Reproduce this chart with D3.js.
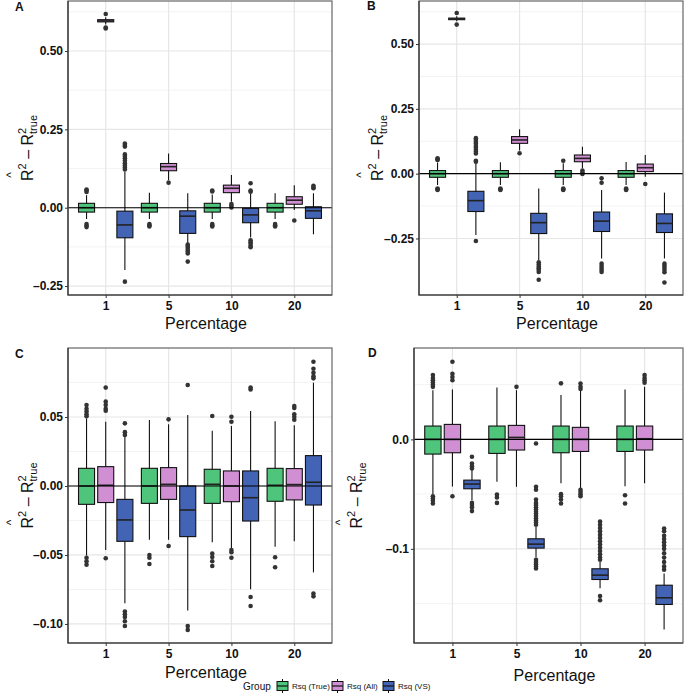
<!DOCTYPE html>
<html>
<head>
<meta charset="utf-8">
<script src="https://cdn.jsdelivr.net/npm/d3@7/dist/d3.min.js"></script>
<style>
  body { margin: 0; background: #fff; }
  text { font-family: "Liberation Sans", Arial, sans-serif; }
</style>
</head>
<body>
<svg width="685" height="694"></svg>
<script>
var percentages = ["1", "5", "10", "20"];
var groups = ["Rsq (True)", "Rsq (All)", "Rsq (VS)"];
var colors = ["#4fc57b", "#d18fd3", "#4363b5"];

// rows: [percentage, group index, lower whisker, q1, median, q3, upper whisker]
var statsA = [
  ["1", 0, -0.036, -0.014, 0, 0.014, 0.040], ["1", 1, 0.585, 0.593, 0.596, 0.600, 0.608], ["1", 2, -0.199, -0.096, -0.055, -0.011, 0.115],
  ["5", 0, -0.036, -0.014, 0, 0.014, 0.048], ["5", 1, 0.088, 0.118, 0.131, 0.141, 0.173], ["5", 2, -0.114, -0.082, -0.027, -0.010, 0.046],
  ["10", 0, -0.036, -0.014, 0, 0.014, 0.042], ["10", 1, 0.019, 0.048, 0.062, 0.072, 0.104], ["10", 2, -0.095, -0.048, -0.023, -0.002, 0.045],
  ["20", 0, -0.036, -0.014, 0, 0.014, 0.046], ["20", 1, -0.007, 0.011, 0.024, 0.035, 0.072], ["20", 2, -0.085, -0.034, -0.010, 0.003, 0.046]
];
var outA = [
  ["1", 0, 0.050, 0.055, 0.058, -0.052, -0.058, -0.062], ["1", 1, 0.618, 0.572, 0.575],
  ["1", 2, 0.122, 0.128, 0.135, 0.142, 0.15, 0.158, 0.165, 0.17, 0.195, 0.2, 0.205, -0.236],
  ["5", 0, -0.052, -0.056, -0.06], ["5", 1, 0.08], ["5", 2, -0.118, -0.122, -0.128, -0.134, -0.14, -0.146, -0.172],
  ["10", 0, 0.052, 0.055, -0.052, -0.056, -0.06], ["10", 1, 0.012, 0.006, 0.001], ["10", 2, 0.051, 0.055, 0.078, -0.104, -0.11, -0.116, -0.122, -0.126],
  ["20", 0, -0.052, -0.056, -0.06], ["20", 1, -0.041], ["20", 2, 0.062, 0.066, 0.07]
];

var statsB = [
  ["1", 0, -0.044, -0.014, 0, 0.012, 0.043], ["1", 1, 0.588, 0.594, 0.597, 0.600, 0.607], ["1", 2, -0.237, -0.146, -0.104, -0.068, 0.040],
  ["5", 0, -0.044, -0.014, 0, 0.012, 0.044], ["5", 1, 0.089, 0.117, 0.130, 0.143, 0.171], ["5", 2, -0.334, -0.231, -0.189, -0.153, -0.057],
  ["10", 0, -0.044, -0.014, 0, 0.012, 0.040], ["10", 1, 0.021, 0.046, 0.059, 0.072, 0.104], ["10", 2, -0.327, -0.223, -0.183, -0.148, -0.063],
  ["20", 0, -0.044, -0.014, 0, 0.012, 0.045], ["20", 1, -0.012, 0.008, 0.023, 0.037, 0.072], ["20", 2, -0.327, -0.227, -0.192, -0.155, -0.073]
];
var outB = [
  ["1", 0, 0.053, 0.056, 0.059, -0.057, -0.06, -0.063], ["1", 1, 0.62, 0.575],
  ["1", 2, 0.046, 0.05, 0.078, 0.085, 0.092, 0.1, 0.107, 0.115, 0.122, 0.13, 0.137, -0.26],
  ["5", 0, -0.057, -0.06, -0.063], ["5", 1, 0.079], ["5", 2, -0.342, -0.35, -0.358, -0.365, -0.372, -0.379, -0.409],
  ["10", 0, 0.05, -0.057, -0.06, -0.063], ["10", 1, 0.012, 0.005, -0.001], ["10", 2, -0.018, -0.035, -0.347, -0.356, -0.364, -0.372, -0.379],
  ["20", 0, -0.057, -0.06, -0.063], ["20", 1, -0.04], ["20", 2, -0.347, -0.355, -0.363, -0.372, -0.38, -0.42]
];

var statsC = [
  ["1", 0, -0.0505, -0.0133, 0, 0.0128, 0.049], ["1", 1, -0.0464, -0.012, 0.0005, 0.014, 0.0466], ["1", 2, -0.085, -0.0401, -0.0246, -0.0097, 0.0357],
  ["5", 0, -0.039, -0.0126, 0, 0.0128, 0.0478], ["5", 1, -0.039, -0.0097, 0.0012, 0.0133, 0.0447], ["5", 2, -0.0903, -0.0367, -0.0174, 0, 0.0514],
  ["10", 0, -0.0408, -0.0126, 0.0012, 0.0121, 0.040], ["10", 1, -0.045, -0.0114, 0, 0.0109, 0.0435], ["10", 2, -0.0749, -0.0254, -0.0085, 0.0109, 0.0543],
  ["20", 0, -0.044, -0.0111, 0.0005, 0.0128, 0.047], ["20", 1, -0.040, -0.0101, 0.001, 0.0126, 0.044], ["20", 2, -0.0626, -0.0138, 0.0027, 0.022, 0.0749]
];
var outC = [
  ["1", 0, 0.0505, 0.052, 0.054, 0.056, 0.0587, -0.052, -0.0545, -0.057], ["1", 1, 0.0545, 0.056, 0.0586, 0.0611, 0.0713, -0.0524],
  ["1", 2, 0.037, 0.039, 0.0454, -0.091, -0.093, -0.095, -0.098, -0.1015],
  ["5", 0, -0.05, -0.052, -0.0565], ["5", 1, 0.0483, -0.0435], ["5", 2, 0.0732, -0.1015, -0.1043],
  ["10", 0, 0.0507, -0.049, -0.0515, -0.0545, -0.058], ["10", 1, 0.0466, 0.0502, -0.0464, -0.048, -0.052], ["10", 2, 0.07, 0.0713, -0.0805, -0.087],
  ["20", 0, -0.0517, -0.0589], ["20", 1, 0.048, 0.05, 0.052, 0.0565, 0.058], ["20", 2, 0.078, 0.0795, 0.082, 0.085, 0.09, -0.078, -0.080]
];

var statsD = [
  ["1", 0, -0.050, -0.0134, 0, 0.0122, 0.045], ["1", 1, -0.043, -0.0122, 0, 0.0137, 0.0457], ["1", 2, -0.0555, -0.0451, -0.0408, -0.0372, -0.028],
  ["5", 0, -0.0387, -0.0128, 0, 0.0122, 0.0475], ["5", 1, -0.0433, -0.0097, 0.0018, 0.0128, 0.045], ["5", 2, -0.108, -0.0993, -0.0957, -0.0908, -0.080],
  ["10", 0, -0.040, -0.0122, 0, 0.0122, 0.0405], ["10", 1, -0.0448, -0.011, 0, 0.011, 0.045], ["10", 2, -0.136, -0.128, -0.124, -0.1182, -0.1118],
  ["20", 0, -0.0427, -0.011, 0, 0.0122, 0.0457], ["20", 1, -0.040, -0.0097, 0.0006, 0.0122, 0.048], ["20", 2, -0.1737, -0.1508, -0.1447, -0.1332, -0.1225]
];
var outD = [
  ["1", 0, 0.048, 0.05, 0.052, 0.054, 0.056, 0.0588, -0.052, -0.054, -0.056, -0.0585], ["1", 1, 0.054, 0.057, 0.06, 0.071, -0.052],
  ["1", 2, -0.0158, -0.022, -0.0245, -0.0265, -0.058, -0.06, -0.062, -0.0655],
  ["5", 0, -0.0503, -0.053, -0.058], ["5", 1, 0.048], ["5", 2, -0.0037, -0.0433, -0.046, -0.055, -0.058, -0.06, -0.062, -0.064, -0.066, -0.068, -0.07, -0.072, -0.074, -0.076, -0.078, -0.110, -0.112, -0.114, -0.116, -0.118],
  ["10", 0, 0.0512, -0.05, -0.052, -0.055, -0.0585], ["10", 1, 0.046, 0.048, 0.051, -0.046, -0.048, -0.05, -0.052],
  ["10", 2, -0.075, -0.078, -0.081, -0.084, -0.087, -0.09, -0.093, -0.096, -0.099, -0.102, -0.105, -0.108, -0.110, -0.143, -0.147],
  ["20", 0, -0.051, -0.0585], ["20", 1, 0.0518, 0.054, 0.056, 0.0588],
  ["20", 2, -0.0814, -0.084, -0.088, -0.091, -0.094, -0.097, -0.1, -0.104, -0.108, -0.112, -0.116, -0.119]
];

var ticksA = [-0.25, 0, 0.25, 0.5], minorA = [-0.125, 0.125, 0.375, 0.625];
var ticksC = [-0.1, -0.05, 0, 0.05], minorC = [-0.075, -0.025, 0.025, 0.075];
var ticksD = [-0.1, 0], minorD = [-0.15, -0.05, 0.05];

var svg = d3.select("svg");

function fmt(d, digits) {
  var s = d3.format("." + digits + "f")(Math.abs(d));
  return d < 0 ? "\u2013" + s : s;
}

function panel(opt) {
  var x = d3.scalePoint().domain(percentages).range([opt.left, opt.left + opt.width]).padding(0.6);
  var y = d3.scaleLinear().domain(opt.domain).range([opt.top + opt.height, opt.top]);
  var step = x.step();
  var off = function(gi) { return (gi - 1) * step * 0.305; };
  var bw = step * 0.255;
  var g = svg.append("g");

  g.append("rect").attr("x", opt.left).attr("y", opt.top).attr("width", opt.width).attr("height", opt.height)
    .attr("fill", "#fff");

  // grid
  g.selectAll(".minor").data(opt.minor).enter().append("line")
    .attr("x1", opt.left).attr("x2", opt.left + opt.width)
    .attr("y1", function(d) { return y(d); }).attr("y2", function(d) { return y(d); })
    .attr("stroke", "#f0f0f0").attr("stroke-width", 0.8);
  g.selectAll(".major").data(opt.ticks).enter().append("line")
    .attr("x1", opt.left).attr("x2", opt.left + opt.width)
    .attr("y1", function(d) { return y(d); }).attr("y2", function(d) { return y(d); })
    .attr("stroke", "#e6e6e6").attr("stroke-width", 1.2);
  g.selectAll(".vgrid").data(percentages).enter().append("line")
    .attr("x1", function(d) { return x(d); }).attr("x2", function(d) { return x(d); })
    .attr("y1", opt.top).attr("y2", opt.top + opt.height)
    .attr("stroke", "#e6e6e6").attr("stroke-width", 1.2);

  // whiskers
  var boxes = g.selectAll(".box").data(opt.stats).enter().append("g")
    .attr("transform", function(d) { return "translate(" + (x(d[0]) + off(d[1])) + ",0)"; });
  boxes.append("line").attr("x1", 0).attr("x2", 0)
    .attr("y1", function(d) { return y(d[6]); }).attr("y2", function(d) { return y(d[2]); })
    .attr("stroke", "#111").attr("stroke-width", 1.1);
  boxes.append("rect")
    .attr("x", -bw / 2).attr("width", bw)
    .attr("y", function(d) { return y(d[5]); })
    .attr("height", function(d) { return Math.max(1, y(d[3]) - y(d[5])); })
    .attr("fill", function(d) { return colors[d[1]]; })
    .attr("stroke", "#111").attr("stroke-width", 1.1);
  boxes.append("line").attr("x1", -bw / 2).attr("x2", bw / 2)
    .attr("y1", function(d) { return y(d[4]); }).attr("y2", function(d) { return y(d[4]); })
    .attr("stroke", "#222").attr("stroke-width", 1.6);

  // outliers
  var pts = [];
  opt.out.forEach(function(r) {
    r.slice(2).forEach(function(v) { pts.push([r[0], r[1], v]); });
  });
  g.selectAll(".pt").data(pts).enter().append("circle")
    .attr("cx", function(d) { return x(d[0]) + off(d[1]); })
    .attr("cy", function(d) { return y(d[2]); })
    .attr("r", 2.3).attr("fill", "#333");

  // zero line
  g.append("line").attr("x1", opt.left).attr("x2", opt.left + opt.width)
    .attr("y1", y(0)).attr("y2", y(0)).attr("stroke", "#000").attr("stroke-width", 1.1);

  // border
  g.append("rect").attr("x", opt.left).attr("y", opt.top).attr("width", opt.width).attr("height", opt.height)
    .attr("fill", "none").attr("stroke", "#666").attr("stroke-width", 1.2);
  g.append("path")
    .attr("d", "M" + opt.left + "," + opt.top + "V" + (opt.top + opt.height) + "H" + (opt.left + opt.width))
    .attr("fill", "none").attr("stroke", "#333").attr("stroke-width", 1.2);

  // axes
  var ya = g.append("g").attr("transform", "translate(" + opt.left + ",0)")
    .call(d3.axisLeft(y).tickValues(opt.ticks).tickSize(3).tickPadding(2)
      .tickFormat(function(d) { return fmt(d, opt.digits); }));
  ya.select(".domain").remove();
  var xa = g.append("g").attr("transform", "translate(0," + (opt.top + opt.height) + ")")
    .call(d3.axisBottom(x).tickSize(3).tickPadding(3));
  xa.select(".domain").remove();
  g.selectAll(".tick line").attr("stroke", "#333");
  g.selectAll(".tick text").attr("fill", "#111").style("font-size", "12px")
    .style("font-family", "'Liberation Sans', Arial, sans-serif").style("font-weight", "bold");

  // x title
  g.append("text").attr("x", opt.left + opt.width / 2 + 6).attr("y", opt.xtitleY)
    .attr("text-anchor", "middle").style("font-size", "16px").attr("fill", "#111").text("Percentage");

  // y title
  var cy = opt.top + opt.height / 2;
  var yt = g.append("g").attr("transform", "translate(" + opt.ytitleX + "," + (cy + 33) + ") rotate(-90)");
  var t = yt.append("text").attr("x", 0).attr("y", 0).style("font-size", "16px").attr("fill", "#111");
  t.append("tspan").text("R");
  t.append("tspan").attr("dy", -7).style("font-size", "11px").text("2");
  t.append("tspan").attr("dy", 7).text(" \u2013 R");
  t.append("tspan").attr("dy", -7).style("font-size", "11px").text("2");
  t.append("tspan").attr("dy", 11).attr("dx", -6.1).style("font-size", "11px").text("true");
  yt.append("text").attr("x", 6).attr("y", -18).attr("text-anchor", "middle")
    .style("font-size", "12px").attr("fill", "#111").text("^");

  // panel letter
  g.append("text").attr("x", opt.labelX).attr("y", opt.labelY)
    .style("font-size", "12px").style("font-weight", "bold").attr("fill", "#111").text(opt.label);
}

panel({ label: "A", labelX: 15, labelY: 11, left: 68, top: 1, width: 264, height: 294,
  domain: [-0.2786, 0.6596], ticks: ticksA, minor: minorA, digits: 2,
  stats: statsA, out: outA, xtitleY: 329, ytitleX: 33 });
panel({ label: "B", labelX: 367, labelY: 10, left: 419, top: 1, width: 264, height: 294,
  domain: [-0.468, 0.666], ticks: ticksA, minor: minorA, digits: 2,
  stats: statsB, out: outB, xtitleY: 329, ytitleX: 383 });
panel({ label: "C", labelX: 15, labelY: 358, left: 68, top: 348, width: 264, height: 295,
  domain: [-0.1138, 0.1], ticks: ticksC, minor: minorC, digits: 2,
  stats: statsC, out: outC, xtitleY: 678, ytitleX: 33 });
panel({ label: "D", labelX: 368, labelY: 357, left: 414, top: 348, width: 269, height: 295,
  domain: [-0.186, 0.0835], ticks: ticksD, minor: minorD, digits: 1,
  stats: statsD, out: outD, xtitleY: 681, ytitleX: 362 });

// legend
var leg = svg.append("g").attr("transform", "translate(243,686)");
leg.append("text").attr("x", 0).attr("y", 3.5).style("font-size", "10px").attr("fill", "#111").text("Group");
var lx = [34, 89, 140];
var items = leg.selectAll(".item").data(groups).enter().append("g")
  .attr("transform", function(d, i) { return "translate(" + lx[i] + ",0)"; });
items.append("line").attr("x1", 5.5).attr("x2", 5.5).attr("y1", -7).attr("y2", 7).attr("stroke", "#111");
items.append("rect").attr("x", 0).attr("y", -4.5).attr("width", 11).attr("height", 9)
  .attr("fill", function(d, i) { return colors[i]; }).attr("stroke", "#111").attr("stroke-width", 1);
items.append("line").attr("x1", 0).attr("x2", 11).attr("y1", 0).attr("y2", 0).attr("stroke", "#111").attr("stroke-width", 1.2);
items.append("text").attr("x", 15).attr("y", 3).style("font-size", "8px").attr("fill", "#111").text(function(d) { return d; });
</script>
</body>
</html>
